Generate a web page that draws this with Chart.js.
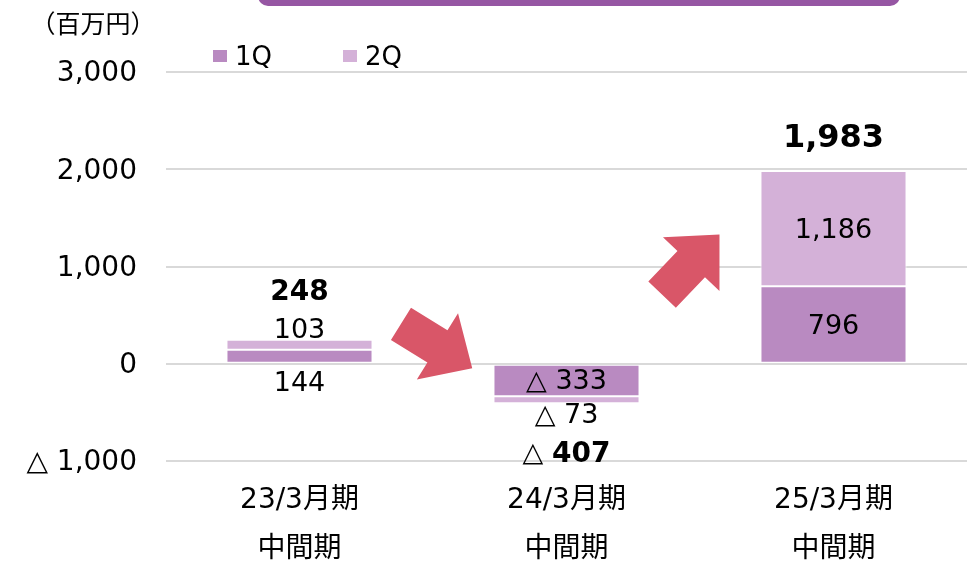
<!DOCTYPE html>
<html><head><meta charset="utf-8">
<style>html,body{margin:0;padding:0;background:#fff;} #wrap{position:relative;width:967px;height:564px;}</style>
<script src="https://cdn.jsdelivr.net/npm/chart.js@4/dist/chart.umd.min.js"></script>
</head><body><div id="wrap"><canvas id="c"></canvas></div>
<script>
const categories = [['23/3月期','中間期'],['24/3月期','中間期'],['25/3月期','中間期']];
const seriesNames = ['1Q','2Q'];
const q1Values = [144, -333, 796];
const q2Values = [103, -73, 1186];
const totals = [248, -407, 1983];
const yMin = -1000, yMax = 3000, yStep = 1000;
const unitLabel = '（百万円）';

const FONT = "'DejaVu Sans','Noto Sans CJK JP',sans-serif";
const COL1 = '#B98AC1', COL2 = '#D4B1D8', ARROW = '#D95668', HEADER = '#9656A3';

function fmt(v){ const s = Math.abs(v).toLocaleString('en-US'); return v < 0 ? '△ ' + s : s; }

const decorPlugin = {
  id: 'decor',
  beforeDraw(chart){
    const ctx = chart.ctx;
    ctx.save();
    ctx.fillStyle = HEADER;
    ctx.beginPath();
    ctx.roundRect(258, -14, 642, 20, 10);
    ctx.fill();
    ctx.fillStyle = '#000';
    ctx.font = "25px 'Noto Sans CJK JP',sans-serif";
    ctx.textAlign = 'center'; ctx.textBaseline = 'middle';
    ctx.fillText(unitLabel, 93, 23);
    // legend
    const ca = chart.chartArea;
    const items = [[ca.left + 47, 0], [ca.left + 177, 1]];
    ctx.font = '26px ' + FONT; ctx.textAlign = 'left';
    items.forEach(([x, di]) => {
      const ds = chart.data.datasets[di];
      ctx.fillStyle = ds.backgroundColor;
      ctx.fillRect(x, 50, 14, 12);
      ctx.fillStyle = '#000';
      ctx.fillText(ds.label, x + 22, 58);
    });
    ctx.restore();
  },
  afterDatasetsDraw(chart){
    const ctx = chart.ctx;
    const xs = chart.scales.x, ys = chart.scales.y;
    const y0 = ys.getPixelForValue(0);
    ctx.save();
    function arrow(tx, ty, px, py){
      const sw = 38, hw = 78, hl = 41;
      const dx = px - tx, dy = py - ty, L = Math.hypot(dx, dy);
      const ux = dx / L, uy = dy / L, nx = -uy, ny = ux;
      const bx = px - ux * hl, by = py - uy * hl;
      ctx.beginPath();
      ctx.moveTo(tx + nx * sw / 2, ty + ny * sw / 2);
      ctx.lineTo(bx + nx * sw / 2, by + ny * sw / 2);
      ctx.lineTo(bx + nx * hw / 2, by + ny * hw / 2);
      ctx.lineTo(px, py);
      ctx.lineTo(bx - nx * hw / 2, by - ny * hw / 2);
      ctx.lineTo(bx - nx * sw / 2, by - ny * sw / 2);
      ctx.lineTo(tx - nx * sw / 2, ty - ny * sw / 2);
      ctx.closePath();
      ctx.fill();
    }
    const xAt = f => { const i = Math.floor(f); return xs.getPixelForValue(i) + (f - i) * (xs.getPixelForValue(i + 1) - xs.getPixelForValue(i)); };
    ctx.fillStyle = ARROW;
    arrow(xAt(0.38), ys.getPixelForValue(411), xAt(0.647), ys.getPixelForValue(-45));
    arrow(xAt(1.358), ys.getPixelForValue(710), xAt(1.573), ys.getPixelForValue(1330));

    ctx.fillStyle = '#000';
    ctx.textAlign = 'center'; ctx.textBaseline = 'middle';
    const m1s = chart.getDatasetMeta(0).data, m2s = chart.getDatasetMeta(1).data;
    const last = categories.length - 1;
    const off = 2;
    categories.forEach((c, i) => {
      const m1 = m1s[i], m2 = m2s[i];
      const x = m1.x;
      const dir = totals[i] >= 0 ? -1 : 1;
      const h1 = Math.abs(m1.base - m1.y), h2 = Math.abs(m2.base - m2.y);
      const far = m2.y;
      const y1 = h1 >= 24 ? (m1.y + m1.base) / 2 : y0 - dir * 18;
      const out2 = h2 < 24;
      const y2 = out2 ? far + dir * 11 : (m2.y + m2.base) / 2;
      const yt = far + dir * (out2 ? 49 : 34);
      ctx.font = '27px ' + FONT;
      ctx.fillText(fmt(q1Values[i]), x, y1 + off);
      ctx.fillText(fmt(q2Values[i]), x, y2 + off);
      const size = i === last ? 32 : 28;
      const numStr = Math.abs(totals[i]).toLocaleString('en-US');
      const bold = 'bold ' + size + 'px ' + FONT, norm = '27px ' + FONT;
      if (totals[i] < 0) {
        ctx.font = norm; const wp = ctx.measureText('△ ').width;
        ctx.font = bold; const wn = ctx.measureText(numStr).width;
        const sx = x - (wp + wn) / 2;
        ctx.textAlign = 'left';
        ctx.font = norm; ctx.fillText('△ ', sx, yt + off);
        ctx.font = bold; ctx.fillText(numStr, sx + wp, yt + off);
        ctx.textAlign = 'center';
      } else {
        ctx.font = bold; ctx.fillText(numStr, x, yt + off);
      }
    });
    ctx.restore();
  }
};

new Chart(document.getElementById('c'), {
  type: 'bar',
  data: {
    labels: categories,
    datasets: [
      { label: seriesNames[0], data: q1Values, backgroundColor: COL1, borderColor: '#fff', borderWidth: 1, borderSkipped: false },
      { label: seriesNames[1], data: q2Values, backgroundColor: COL2, borderColor: '#fff', borderWidth: 1, borderSkipped: false }
    ]
  },
  options: {
    responsive: true, maintainAspectRatio: false, animation: false,
    layout: { padding: { top: 72, right: 0, left: 0, bottom: 0 } },
    categoryPercentage: 1, barPercentage: 0.547,
    plugins: { legend: { display: false }, tooltip: { enabled: false }, title: { display: false } },
    scales: {
      x: {
        stacked: true,
        grid: { display: false, drawTicks: false },
        border: { display: false },
        ticks: { color: '#000', padding: 15, maxRotation: 0, font: { family: FONT, size: 28, lineHeight: 1.75 } },
        afterFit(s){ s.height = 103; }
      },
      y: {
        stacked: true, min: yMin, max: yMax,
        grid: { color: '#D9D9D9', lineWidth: 2, drawTicks: false },
        border: { display: false },
        ticks: { stepSize: yStep, color: '#000', padding: 29, labelOffset: 2, font: { family: FONT, size: 28 }, callback: v => fmt(v) },
        afterFit(s){ s.width = 166; }
      }
    }
  },
  plugins: [decorPlugin]
});
</script></body></html>
